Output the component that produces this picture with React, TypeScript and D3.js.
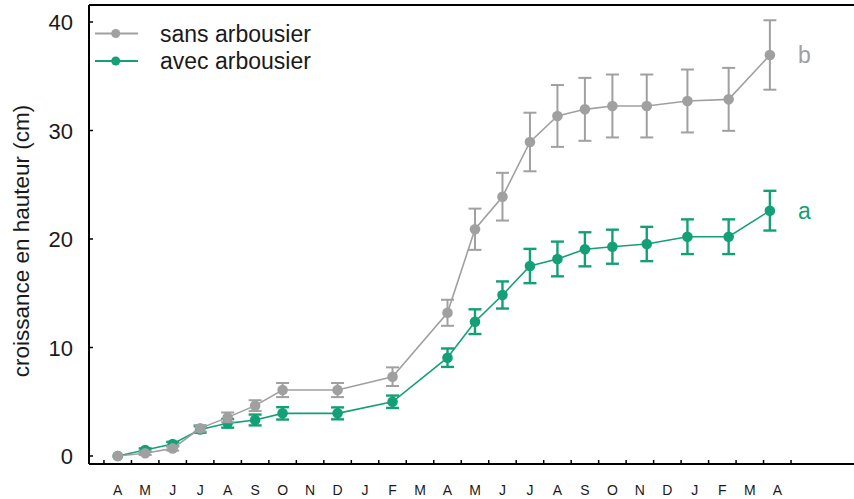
import React from "react";
import * as d3 from "d3";

const monthLabels = ["A","M","J","J","A","S","O","N","D","J","F","M","A","M","J","J","A","S","O","N","D","J","F","M","A"];
const yTicks = [0, 10, 20, 30, 40];

// sampling dates expressed as month index (0 = first April)
const dates = [0, 1, 2, 3, 4, 5, 6, 8, 10, 12, 13, 14, 15, 16, 17, 18, 19.25, 20.73, 22.23, 23.73];

const sansMean = [0, 0.25, 0.7, 2.55, 3.56, 4.64, 6.08, 6.08, 7.31, 13.2, 20.9, 23.9, 28.94, 31.34, 31.95, 32.26, 32.26, 32.72, 32.87, 36.96];
const sansErr = [0, 0.15, 0.2, 0.3, 0.45, 0.5, 0.65, 0.65, 0.86, 1.2, 1.9, 2.2, 2.7, 2.85, 2.9, 2.9, 2.9, 2.9, 2.9, 3.2];

const avecMean = [0, 0.55, 1.1, 2.45, 3.01, 3.32, 3.93, 3.93, 5.0, 9.06, 12.38, 14.84, 17.51, 18.16, 19.05, 19.29, 19.54, 20.21, 20.21, 22.61];
const avecErr = [0, 0.15, 0.2, 0.3, 0.4, 0.5, 0.57, 0.55, 0.57, 0.85, 1.14, 1.25, 1.58, 1.6, 1.57, 1.57, 1.58, 1.6, 1.6, 1.83];

const seriesNames = ["sans arbousier", "avec arbousier"];
const groupLetters = ["b", "a"];

const GRAY = "#a0a0a0";
const GREEN = "#13a077";
const FONT = "'Liberation Sans', Arial, Helvetica, sans-serif";

export default function App() {
  const W = 854, H = 499;
  const left = 89, top = 5, bottom = 464;
  const x = d3.scaleLinear().domain([0, 24]).range([117.7, 777.3]);
  const y = d3.scaleLinear().domain([0, 40]).range([456, 22]);

  const line = d3.line<number>().x((_, i) => x(dates[i])).y((v) => y(v));

  const series = [
    { name: seriesNames[1], mean: avecMean, err: avecErr, color: GREEN, lw: 1.6, ew: 2.4, letter: groupLetters[1] },
    { name: seriesNames[0], mean: sansMean, err: sansErr, color: GRAY, lw: 1.6, ew: 2, letter: groupLetters[0] },
  ];

  const tickPositions = d3.range(monthLabels.length + 1).map((i) => i - 0.5);

  return (
    <svg width={W} height={H} style={{ position: "absolute", left: 0, top: 0, background: "#fff" }}>
      <rect x={0} y={0} width={W} height={H} fill="#fff" />
      {/* frame */}
      <line x1={left} y1={top} x2={W} y2={top} stroke="#000" strokeWidth={2} />
      <line x1={left} y1={top} x2={left} y2={bottom} stroke="#000" strokeWidth={2} />
      <line x1={left} y1={bottom} x2={W} y2={bottom} stroke="#000" strokeWidth={2} />

      {/* y ticks */}
      {yTicks.map((t) => (
        <g key={"y" + t}>
          <line x1={left} x2={left + 4} y1={y(t)} y2={y(t)} stroke="#000" strokeWidth={1.5} />
          <text x={73} y={y(t) + 8} textAnchor="end" fontFamily={FONT} fontSize={22} fill="#1a1a1a">{t}</text>
        </g>
      ))}

      {/* x ticks */}
      {tickPositions.map((t, i) => (
        <line key={"xt" + i} x1={x(t)} x2={x(t)} y1={bottom} y2={bottom - 4} stroke="#000" strokeWidth={1.5} />
      ))}
      {monthLabels.map((m, i) => (
        <text key={"xl" + i} x={x(i)} y={495} textAnchor="middle" fontFamily={FONT} fontSize={14} fill="#1a1a1a">{m}</text>
      ))}

      {/* y axis title */}
      <text transform={`translate(29,241) rotate(-90)`} textAnchor="middle" fontFamily={FONT} fontSize={22.5} fill="#1a1a1a">
        croissance en hauteur (cm)
      </text>

      {/* series */}
      {series.map((s) => (
        <g key={s.name}>
          <path d={line(s.mean) || ""} fill="none" stroke={s.color} strokeWidth={s.lw} />
          {s.mean.map((v, i) =>
            s.err[i] > 0 ? (
              <g key={"e" + i} stroke={s.color} strokeWidth={s.ew}>
                <line x1={x(dates[i])} x2={x(dates[i])} y1={y(v + s.err[i])} y2={y(v - s.err[i])} />
                <line x1={x(dates[i]) - 6.5} x2={x(dates[i]) + 6.5} y1={y(v + s.err[i])} y2={y(v + s.err[i])} />
                <line x1={x(dates[i]) - 6.5} x2={x(dates[i]) + 6.5} y1={y(v - s.err[i])} y2={y(v - s.err[i])} />
              </g>
            ) : null
          )}
          {s.mean.map((v, i) => (
            <circle key={"c" + i} cx={x(dates[i])} cy={y(v)} r={5.3} fill={s.color} />
          ))}
          <text
            x={x(dates[dates.length - 1]) + 28}
            y={y(s.mean[s.mean.length - 1]) + 8}
            fontFamily={FONT}
            fontSize={23}
            fill={s.color}
          >
            {s.letter}
          </text>
        </g>
      ))}

      {/* legend */}
      {[{ name: seriesNames[0], color: GRAY, ly: 33.5 }, { name: seriesNames[1], color: GREEN, ly: 61 }].map((l) => (
        <g key={"lg" + l.name}>
          <line x1={95} x2={138} y1={l.ly} y2={l.ly} stroke={l.color} strokeWidth={2} />
          <circle cx={115.7} cy={l.ly} r={4.5} fill={l.color} />
          <text x={160} y={l.ly + 8} fontFamily={FONT} fontSize={23} fill="#1a1a1a">{l.name}</text>
        </g>
      ))}
    </svg>
  );
}
